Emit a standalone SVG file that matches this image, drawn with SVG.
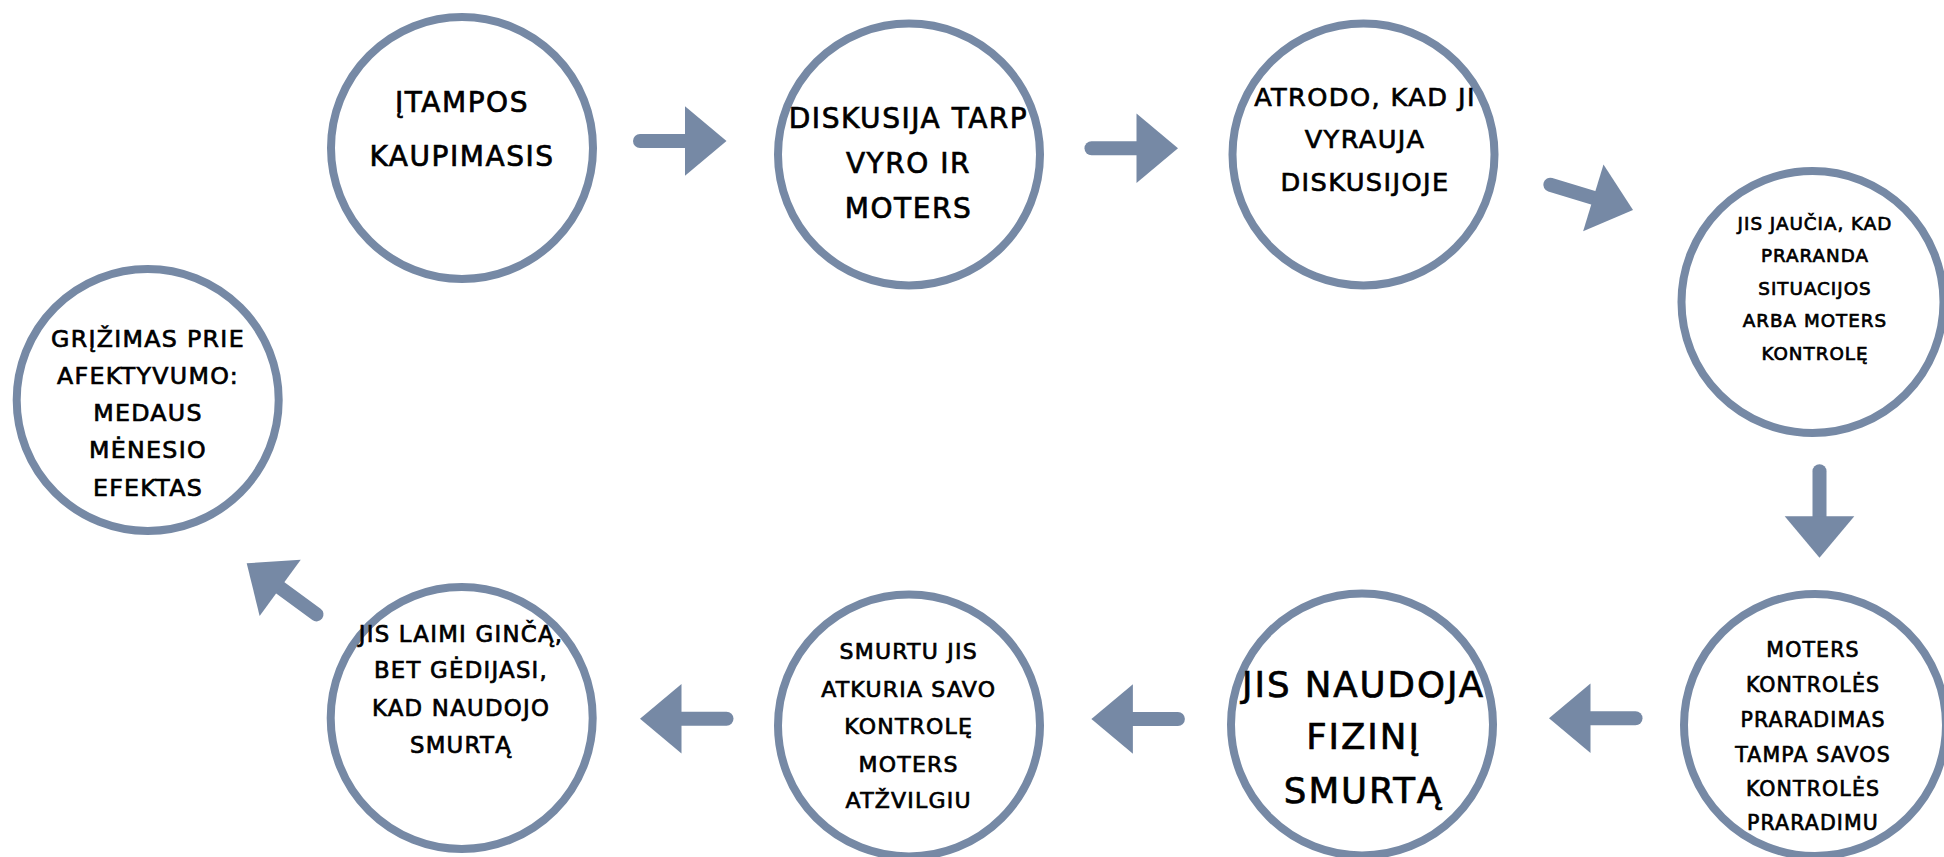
<svg xmlns="http://www.w3.org/2000/svg" xmlns:xlink="http://www.w3.org/1999/xlink" width="1944" height="857" viewBox="0 0 1944 857">
<style>
.node{fill:#ffffff;stroke:#7689a5;stroke-width:8}
.t{font-family:"DejaVu Sans","Liberation Sans",sans-serif;fill:#000000;stroke:#000000;stroke-width:0.7;text-anchor:middle;letter-spacing:0.055em}
.shaft{stroke:#7689a5;stroke-width:14;stroke-linecap:round;fill:none}
.head{fill:#7689a5}
</style>
<defs>
<g id="arrow">
<line class="shaft" x1="-86.5" y1="0" x2="-40" y2="0"/>
<polygon class="head" points="0,0 -41.5,-34.8 -41.5,34.8"/>
</g>
</defs>
<rect width="1944" height="857" fill="#ffffff"/>
<g id="connectors">
<use xlink:href="#arrow" transform="translate(726.5,141)"/>
<use xlink:href="#arrow" transform="translate(1178,148.3)"/>
<use xlink:href="#arrow" transform="translate(1633,210) rotate(17)"/>
<use xlink:href="#arrow" transform="translate(1819.5,557.7) rotate(90)"/>
<use xlink:href="#arrow" transform="translate(1549,718.3) rotate(180)"/>
<use xlink:href="#arrow" transform="translate(1091.4,719) rotate(180)"/>
<use xlink:href="#arrow" transform="translate(640,718.7) rotate(180)"/>
<use xlink:href="#arrow" transform="translate(246.7,563.3) rotate(216.2)"/>
</g>
<g id="node1">
<circle class="node" cx="462" cy="148" r="131"/>
<text class="t" font-size="28"><tspan x="462" y="111.7">ĮTAMPOS</tspan><tspan x="462" y="165.7">KAUPIMASIS</tspan></text>
</g>
<g id="node2">
<circle class="node" cx="909" cy="154.5" r="131"/>
<text class="t" font-size="28"><tspan x="908.5" y="127.7">DISKUSIJA TARP</tspan><tspan x="908.5" y="173.3">VYRO IR</tspan><tspan x="908.5" y="218.3">MOTERS</tspan></text>
</g>
<g id="node3">
<circle class="node" cx="1363.5" cy="154.5" r="131"/>
<text class="t" font-size="25.6"><tspan x="1365" y="106">ATRODO, KAD JI</tspan><tspan x="1365" y="147.7">VYRAUJA</tspan><tspan x="1365" y="190.7">DISKUSIJOJE</tspan></text>
</g>
<g id="node4">
<circle class="node" cx="1812.5" cy="302" r="131"/>
<text class="t" font-size="18.3"><tspan x="1815" y="230">JIS JAUČIA, KAD</tspan><tspan x="1815" y="262.3">PRARANDA</tspan><tspan x="1815" y="295">SITUACIJOS</tspan><tspan x="1815" y="327.3">ARBA MOTERS</tspan><tspan x="1815" y="360">KONTROLĘ</tspan></text>
</g>
<g id="node5">
<circle class="node" cx="1815" cy="725" r="131"/>
<text class="t" font-size="20.5"><tspan x="1813" y="656.7">MOTERS</tspan><tspan x="1813" y="691.7">KONTROLĖS</tspan><tspan x="1813" y="726.7">PRARADIMAS</tspan><tspan x="1813" y="761.7">TAMPA SAVOS</tspan><tspan x="1813" y="796">KONTROLĖS</tspan><tspan x="1813" y="830">PRARADIMU</tspan></text>
</g>
<g id="node6">
<circle class="node" cx="1362" cy="724.5" r="131"/>
<text class="t" font-size="35.6"><tspan x="1363.5" y="696.7">JIS NAUDOJA</tspan><tspan x="1363.5" y="749.3">FIZINĮ</tspan><tspan x="1363.5" y="802.7">SMURTĄ</tspan></text>
</g>
<g id="node7">
<circle class="node" cx="909" cy="725.5" r="131"/>
<text class="t" font-size="22"><tspan x="908.7" y="659.3">SMURTU JIS</tspan><tspan x="908.7" y="696.7">ATKURIA SAVO</tspan><tspan x="908.7" y="734.3">KONTROLĘ</tspan><tspan x="908.7" y="771.7">MOTERS</tspan><tspan x="908.7" y="808.3">ATŽVILGIU</tspan></text>
</g>
<g id="node8">
<circle class="node" cx="461.7" cy="718" r="131"/>
<text class="t" font-size="22.8"><tspan x="461" y="641.7">JIS LAIMI GINČĄ,</tspan><tspan x="461" y="678.3">BET GĖDIJASI,</tspan><tspan x="461" y="716">KAD NAUDOJO</tspan><tspan x="461" y="752.7">SMURTĄ</tspan></text>
</g>
<g id="node9">
<circle class="node" cx="147.7" cy="400" r="131"/>
<text class="t" font-size="23.7"><tspan x="148" y="346.7">GRĮŽIMAS PRIE</tspan><tspan x="148" y="384">AFEKTYVUMO:</tspan><tspan x="148" y="421">MEDAUS</tspan><tspan x="148" y="458.3">MĖNESIO</tspan><tspan x="148" y="495.7">EFEKTAS</tspan></text>
</g>
</svg>
